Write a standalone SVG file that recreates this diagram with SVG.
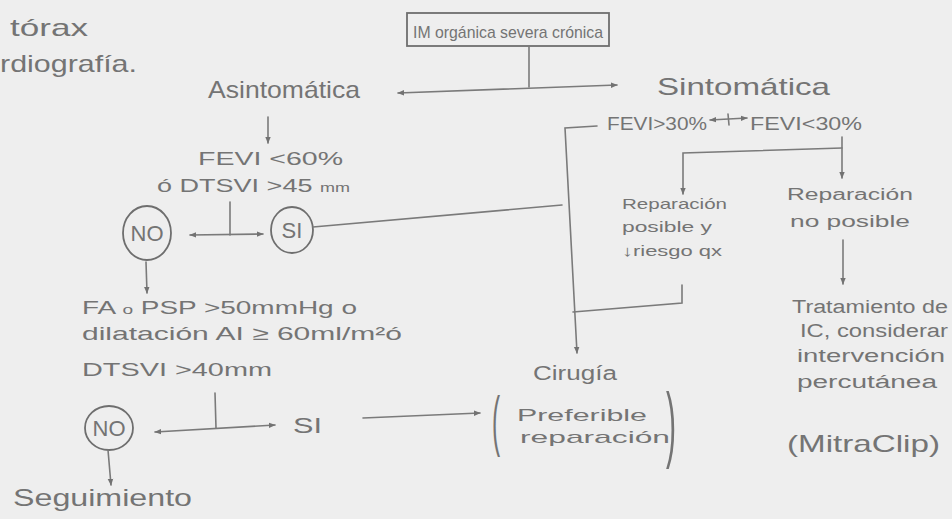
<svg xmlns="http://www.w3.org/2000/svg" width="952" height="519" viewBox="0 0 952 519">
<style>
.t{font-family:"Liberation Sans",Arial,sans-serif;fill:#747474}
.c{stroke:#7a7a7a;stroke-width:1.6;fill:none;stroke-linecap:round}
.o{stroke:#6e6e6e;stroke-width:1.8;fill:none}
</style>
<defs>
<marker id="ah" viewBox="0 0 10 10" refX="9" refY="5" markerWidth="7" markerHeight="7" markerUnits="userSpaceOnUse" orient="auto-start-reverse">
<path d="M0,1 L10,5 L0,9 Z" fill="#727272"/>
</marker>
</defs>
<rect width="952" height="519" fill="#eeeeee"/>

<g id="header">
<text class="t" x="10" y="36" font-size="24" textLength="78" lengthAdjust="spacingAndGlyphs">tórax</text>
<text class="t" x="0" y="72" font-size="24" textLength="137" lengthAdjust="spacingAndGlyphs">rdiografía.</text>
</g>

<g id="root">
<rect x="407" y="13" width="202" height="33" class="o" stroke-width="1.4"/>
<text class="t" x="413" y="38" font-size="17" textLength="190" lengthAdjust="spacingAndGlyphs">IM orgánica severa crónica</text>
</g>

<g id="asintomatica">
<text class="t" x="208" y="98" font-size="24" textLength="152" lengthAdjust="spacingAndGlyphs">Asintomática</text>
</g>
<g id="sintomatica">
<text class="t" x="657" y="95" font-size="24" textLength="173" lengthAdjust="spacingAndGlyphs">Sintomática</text>
</g>

<g id="fevi60">
<text class="t" x="198" y="165" font-size="18" textLength="145" lengthAdjust="spacingAndGlyphs">FEVI &lt;60%</text>
<text class="t" x="157" y="192" font-size="18" textLength="193" lengthAdjust="spacingAndGlyphs">ó DTSVI &gt;45 <tspan font-size="12">mm</tspan></text>
</g>

<g id="no1">
<ellipse cx="147" cy="233" rx="24" ry="27" class="o"/>
<text class="t" x="147" y="241" font-size="22" text-anchor="middle">NO</text>
</g>
<g id="si1">
<ellipse cx="292" cy="230" rx="21" ry="23" class="o"/>
<text class="t" x="292" y="238" font-size="22" text-anchor="middle">SI</text>
</g>

<g id="criterios">
<text class="t" x="82" y="314" font-size="19" textLength="275" lengthAdjust="spacingAndGlyphs">FA <tspan font-size="13">o</tspan> PSP &gt;50mmHg o</text>
<text class="t" x="82" y="340" font-size="19" textLength="320" lengthAdjust="spacingAndGlyphs">dilatación AI ≥ 60ml/m²ó</text>
<text class="t" x="82" y="376" font-size="19" textLength="190" lengthAdjust="spacingAndGlyphs">DTSVI &gt;40mm</text>
</g>

<g id="no2">
<ellipse cx="109" cy="428" rx="24" ry="22" class="o"/>
<text class="t" x="109" y="436" font-size="22" text-anchor="middle">NO</text>
</g>
<g id="si2">
<text class="t" x="293" y="433" font-size="22" textLength="29" lengthAdjust="spacingAndGlyphs">SI</text>
</g>
<g id="seguimiento">
<text class="t" x="13" y="506" font-size="24" textLength="179" lengthAdjust="spacingAndGlyphs">Seguimiento</text>
</g>

<g id="cirugia">
<text class="t" x="533" y="380" font-size="20" textLength="84" lengthAdjust="spacingAndGlyphs">Cirugía</text>
<text class="t" font-size="44" transform="translate(492,443) scale(0.55,1.5)">(</text>
<text class="t" x="517" y="421" font-size="17" textLength="130" lengthAdjust="spacingAndGlyphs">Preferible</text>
<text class="t" x="520" y="443" font-size="17" textLength="150" lengthAdjust="spacingAndGlyphs">reparación</text>
<text class="t" font-size="55" transform="translate(666,452) scale(0.55,1.5)">)</text>
</g>

<g id="fevi30mas">
<text class="t" x="607" y="130" font-size="18" textLength="100" lengthAdjust="spacingAndGlyphs">FEVI&gt;30%</text>
</g>
<g id="fevi30menos">
<text class="t" x="750" y="130" font-size="18" textLength="112" lengthAdjust="spacingAndGlyphs">FEVI&lt;30%</text>
</g>

<g id="rep-posible">
<text class="t" x="622" y="209" font-size="15" textLength="105" lengthAdjust="spacingAndGlyphs">Reparación</text>
<text class="t" x="622" y="232" font-size="15" textLength="90" lengthAdjust="spacingAndGlyphs">posible y</text>
<text class="t" x="622" y="256" font-size="15" textLength="100" lengthAdjust="spacingAndGlyphs">↓riesgo qx</text>
</g>
<g id="rep-no-posible">
<text class="t" x="787" y="200" font-size="16" textLength="126" lengthAdjust="spacingAndGlyphs">Reparación</text>
<text class="t" x="790" y="227" font-size="16" textLength="120" lengthAdjust="spacingAndGlyphs">no posible</text>
</g>

<g id="tratamiento">
<text class="t" x="792" y="313" font-size="18" textLength="156" lengthAdjust="spacingAndGlyphs">Tratamiento de</text>
<text class="t" x="800" y="337" font-size="18" textLength="148" lengthAdjust="spacingAndGlyphs">IC, considerar</text>
<text class="t" x="797" y="362" font-size="18" textLength="148" lengthAdjust="spacingAndGlyphs">intervención</text>
<text class="t" x="797" y="388" font-size="18" textLength="140" lengthAdjust="spacingAndGlyphs">percutánea</text>
<text class="t" x="787" y="452" font-size="24" textLength="153" lengthAdjust="spacingAndGlyphs">(MitraClip)</text>
</g>

<g id="connectors">
<line class="c" x1="529" y1="47" x2="529" y2="87"/>
<line class="c" x1="398" y1="93" x2="617" y2="85" marker-start="url(#ah)" marker-end="url(#ah)"/>
<line class="c" x1="268" y1="117" x2="268" y2="143" marker-end="url(#ah)"/>
<line class="c" x1="230" y1="202" x2="230" y2="235"/>
<line class="c" x1="190" y1="235" x2="263" y2="234" marker-start="url(#ah)" marker-end="url(#ah)"/>
<line class="c" x1="313" y1="227" x2="562" y2="205"/>
<polyline class="c" points="597,126 565,128 577,353" marker-end="url(#ah)"/>
<polyline class="c" points="682,285 682,303 573,312"/>
<line class="c" x1="710" y1="120" x2="747" y2="118" marker-start="url(#ah)" marker-end="url(#ah)"/>
<line class="c" x1="728" y1="114" x2="729" y2="125"/>
<line class="c" x1="842" y1="137" x2="842" y2="178" marker-end="url(#ah)"/>
<polyline class="c" points="842,148 683,153 683,194" marker-end="url(#ah)"/>
<line class="c" x1="843" y1="240" x2="843" y2="284" marker-end="url(#ah)"/>
<line class="c" x1="146" y1="262" x2="147" y2="293" marker-end="url(#ah)"/>
<line class="c" x1="215" y1="393" x2="216" y2="428"/>
<line class="c" x1="155" y1="432" x2="275" y2="425" marker-start="url(#ah)" marker-end="url(#ah)"/>
<line class="c" x1="363" y1="418" x2="480" y2="413" marker-end="url(#ah)"/>
<line class="c" x1="108" y1="450" x2="111" y2="485" marker-end="url(#ah)"/>
</g>
</svg>
